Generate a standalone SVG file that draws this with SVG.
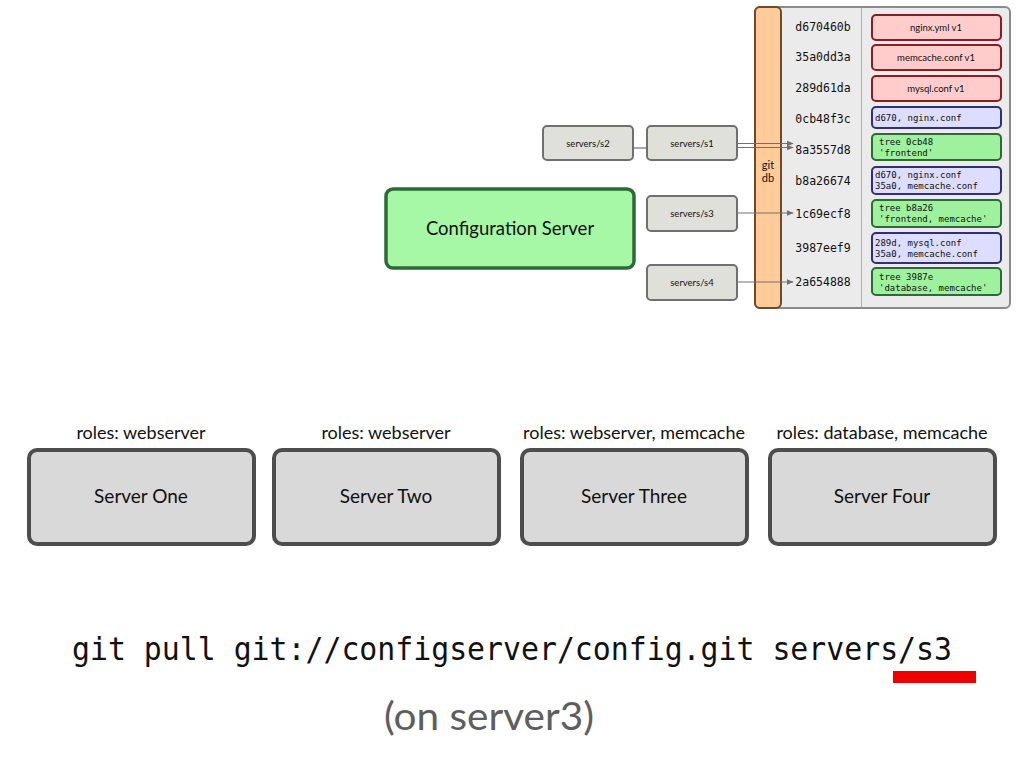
<svg xmlns="http://www.w3.org/2000/svg" width="1024" height="768" viewBox="0 0 1024 768">
  <defs>
    <marker id="arrow" viewBox="0 0 10 10" refX="9" refY="5" markerWidth="7" markerHeight="7" markerUnits="userSpaceOnUse" orient="auto">
      <path d="M0,1 L10,5 L0,9 Z" fill="#707070"/>
    </marker>
    <style>
      .sans { font-family: Lato, "Open Sans", "Liberation Sans", sans-serif; fill: #111; }
      .mono { font-family: "DejaVu Sans Mono", "Liberation Mono", monospace; fill: #111; }
      .ref  { fill: #e0e0da; stroke: #707070; stroke-width: 2; }
      .srv  { fill: #d9d9d9; stroke: #4d4d4d; stroke-width: 4; }
      .blob { fill: #ffcccc; stroke: #8a1c24; stroke-width: 2; }
      .tree { fill: #ddddff; stroke: #2f2f7a; stroke-width: 2; }
      .cmt  { fill: #9ef29e; stroke: #2d6a35; stroke-width: 2; }
      .hash { font-size: 11.5px; text-anchor: middle; }
      .btxt { font-size: 9px; }
      .role { font-size: 18px; text-anchor: middle; }
      .name { font-size: 19px; text-anchor: middle; }
      .conn { stroke: #707070; stroke-width: 1.2; fill: none; }
    </style>
  </defs>

  <rect width="1024" height="768" fill="#ffffff"/>

  <!-- git object database panel -->
  <g id="gitdb">
    <rect x="755" y="7" width="255" height="301" rx="5" fill="#ebebeb" stroke="#8a8a8a" stroke-width="2"/>
    <line x1="861.5" y1="8" x2="861.5" y2="307" stroke="#b0b0b0" stroke-width="1"/>
    <rect x="755" y="7" width="26" height="301" rx="5" fill="#ffcc99" stroke="#6e4a2a" stroke-width="2"/>
    <text class="sans" x="768" y="169" font-size="11" text-anchor="middle">git</text>
    <text class="sans" x="768" y="182" font-size="11" text-anchor="middle">db</text>
  </g>

  <!-- object hashes -->
  <g id="hashes">
    <text class="mono hash" x="823" y="31">d670460b</text>
    <text class="mono hash" x="823" y="61">35a0dd3a</text>
    <text class="mono hash" x="823" y="92">289d61da</text>
    <text class="mono hash" x="823" y="123">0cb48f3c</text>
    <text class="mono hash" x="823" y="154">8a3557d8</text>
    <text class="mono hash" x="823" y="185">b8a26674</text>
    <text class="mono hash" x="823" y="218">1c69ecf8</text>
    <text class="mono hash" x="823" y="252">3987eef9</text>
    <text class="mono hash" x="823" y="286">2a654888</text>
  </g>

  <!-- objects -->
  <g id="obj-d670">
    <rect class="blob" x="872" y="15" width="129" height="25" rx="4"/>
    <text class="sans" x="936" y="31" font-size="9.5" text-anchor="middle">nginx.yml v1</text>
  </g>
  <g id="obj-35a0">
    <rect class="blob" x="872" y="45" width="129" height="25" rx="4"/>
    <text class="sans" x="936" y="61" font-size="9.5" text-anchor="middle">memcache.conf v1</text>
  </g>
  <g id="obj-289d">
    <rect class="blob" x="872" y="76" width="129" height="25" rx="4"/>
    <text class="sans" x="936" y="92" font-size="9.5" text-anchor="middle">mysql.conf v1</text>
  </g>
  <g id="obj-0cb4">
    <rect class="tree" x="872" y="107" width="129" height="21" rx="4"/>
    <text class="mono btxt" x="875" y="121">d670, nginx.conf</text>
  </g>
  <g id="obj-8a35">
    <rect class="cmt" x="872" y="134" width="129" height="26" rx="4"/>
    <text class="mono btxt" x="879" y="145">tree 0cb48</text>
    <text class="mono btxt" x="879" y="156">'frontend'</text>
  </g>
  <g id="obj-b8a2">
    <rect class="tree" x="872" y="167" width="129" height="27" rx="4"/>
    <text class="mono btxt" x="875" y="178">d670, nginx.conf</text>
    <text class="mono btxt" x="875" y="189">35a0, memcache.conf</text>
  </g>
  <g id="obj-1c69">
    <rect class="cmt" x="872" y="200" width="129" height="27" rx="4"/>
    <text class="mono btxt" x="879" y="211">tree b8a26</text>
    <text class="mono btxt" x="879" y="222">'frontend, memcache'</text>
  </g>
  <g id="obj-3987">
    <rect class="tree" x="872" y="233" width="129" height="30" rx="4"/>
    <text class="mono btxt" x="875" y="246">289d, mysql.conf</text>
    <text class="mono btxt" x="875" y="257">35a0, memcache.conf</text>
  </g>
  <g id="obj-2a65">
    <rect class="cmt" x="872" y="268" width="129" height="27" rx="4"/>
    <text class="mono btxt" x="879" y="280">tree 3987e</text>
    <text class="mono btxt" x="879" y="291">'database, memcache'</text>
  </g>

  <!-- configuration server -->
  <g id="config-server">
    <rect x="386" y="189" width="248" height="79" rx="7" fill="#a6f7a6" stroke="#2e6a38" stroke-width="3.5"/>
    <text class="sans" x="510" y="235" font-size="18.5" text-anchor="middle">Configuration Server</text>
  </g>

  <!-- branch refs -->
  <g id="ref-s2">
    <rect class="ref" x="543" y="126" width="90" height="34" rx="4"/>
    <text class="sans" x="588" y="147" font-size="9.5" text-anchor="middle">servers/s2</text>
  </g>
  <g id="ref-s1">
    <rect class="ref" x="647" y="126" width="90" height="34" rx="4"/>
    <text class="sans" x="692" y="147" font-size="9.5" text-anchor="middle">servers/s1</text>
  </g>
  <g id="ref-s3">
    <rect class="ref" x="647" y="196" width="90" height="35" rx="4"/>
    <text class="sans" x="692" y="217" font-size="9.5" text-anchor="middle">servers/s3</text>
  </g>
  <g id="ref-s4">
    <rect class="ref" x="647" y="265" width="90" height="35" rx="4"/>
    <text class="sans" x="692" y="286" font-size="9.5" text-anchor="middle">servers/s4</text>
  </g>

  <!-- ref connectors -->
  <g id="connectors">
    <line class="conn" x1="633" y1="148" x2="647" y2="148"/>
    <line class="conn" x1="737" y1="143.5" x2="793" y2="143.5" marker-end="url(#arrow)"/>
    <line class="conn" x1="737" y1="147.5" x2="793" y2="147.5" marker-end="url(#arrow)"/>
    <line class="conn" x1="737" y1="213" x2="793" y2="213" marker-end="url(#arrow)"/>
    <line class="conn" x1="737" y1="282" x2="793" y2="282" marker-end="url(#arrow)"/>
  </g>

  <!-- servers -->
  <g id="server-one">
    <text class="sans role" x="141" y="439">roles: webserver</text>
    <rect class="srv" x="29" y="450" width="225" height="94" rx="8"/>
    <text class="sans name" x="141" y="503">Server One</text>
  </g>
  <g id="server-two">
    <text class="sans role" x="386" y="439">roles: webserver</text>
    <rect class="srv" x="274" y="450" width="225" height="94" rx="8"/>
    <text class="sans name" x="386" y="503">Server Two</text>
  </g>
  <g id="server-three">
    <text class="sans role" x="634" y="439">roles: webserver, memcache</text>
    <rect class="srv" x="522" y="450" width="225" height="94" rx="8"/>
    <text class="sans name" x="634" y="503">Server Three</text>
  </g>
  <g id="server-four">
    <text class="sans role" x="882" y="439">roles: database, memcache</text>
    <rect class="srv" x="770" y="450" width="225" height="94" rx="8"/>
    <text class="sans name" x="882" y="503">Server Four</text>
  </g>

  <!-- command -->
  <g id="command">
    <text class="mono" x="72" y="660" font-size="32" textLength="880" lengthAdjust="spacingAndGlyphs">git pull git://configserver/config.git servers/s3</text>
    <rect x="893" y="671" width="83" height="12" fill="#ee0000"/>
    <text class="sans" x="384" y="730" font-size="38" textLength="210" lengthAdjust="spacingAndGlyphs" style="fill:#5e5e5e">(on server3)</text>
  </g>
</svg>
